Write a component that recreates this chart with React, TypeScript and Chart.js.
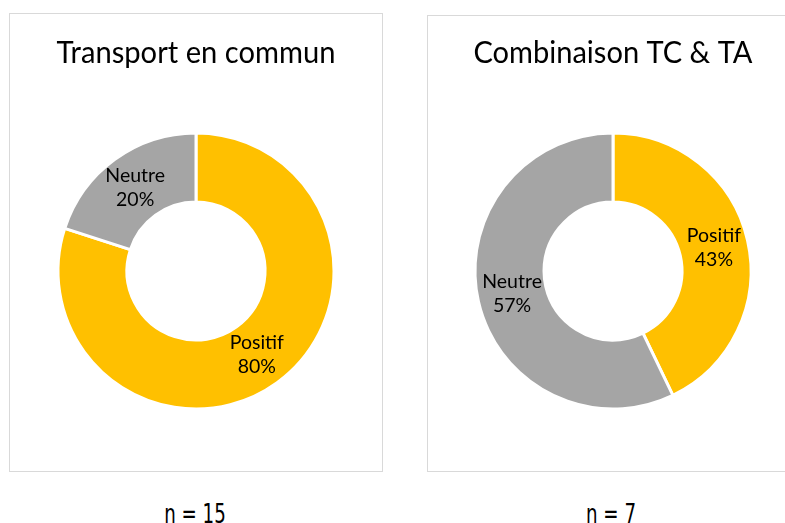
import React, { useEffect, useRef } from "react";
import { Chart, registerables } from "chart.js";

Chart.register(...registerables);

const sliceLabels = ["Positif", "Neutre"];
const transportValues = [12, 3];
const combinaisonValues = [3, 4];
const sliceColors = ["#FFC000", "#A5A5A5"];
const panelTitles = ["Transport en commun", "Combinaison TC & TA"];
const sampleSizes = ["n = 15", "n = 7"];

const FONT = "Lato, 'Open Sans', sans-serif";

const labelPlugin = {
  id: "sliceLabels",
  afterDatasetsDraw(chart: any) {
    const ctx = chart.ctx;
    const meta = chart.getDatasetMeta(0);
    const data = chart.data.datasets[0].data as number[];
    const total = data.reduce((a: number, b: number) => a + b, 0);
    ctx.save();
    ctx.font = `19.5px ${FONT}`;
    ctx.fillStyle = "#000000";
    ctx.textAlign = "center";
    ctx.textBaseline = "middle";
    meta.data.forEach((arc: any, i: number) => {
      const p = arc.getCenterPoint();
      const pct = Math.round((data[i] / total) * 100) + "%";
      ctx.fillText(String(chart.data.labels[i]), p.x, p.y - 12);
      ctx.fillText(pct, p.x, p.y + 12);
    });
    ctx.restore();
  },
};

type PanelProps = {
  title: string;
  values: number[];
  left: number;
  top: number;
  width: number;
  height: number;
  pad: { left: number; right: number; top: number; bottom: number };
  titlePad: { top: number; bottom: number };
};

function DonutPanel(props: PanelProps) {
  const ref = useRef<HTMLCanvasElement | null>(null);
  useEffect(() => {
    if (!ref.current) return;
    const chart = new Chart(ref.current, {
      type: "doughnut",
      data: {
        labels: sliceLabels,
        datasets: [
          {
            data: props.values,
            backgroundColor: sliceColors,
            borderColor: "#FFFFFF",
            borderWidth: 3,
          },
        ],
      },
      options: {
        animation: false,
        responsive: false,
        devicePixelRatio: 1,
        cutout: "50%",
        layout: { padding: props.pad },
        plugins: {
          legend: { display: false },
          tooltip: { enabled: false },
          title: {
            display: true,
            text: props.title,
            color: "#000000",
            font: { family: FONT, size: 30, weight: "normal", lineHeight: 1.2 },
            padding: props.titlePad,
          },
        },
      } as any,
      plugins: [labelPlugin],
    });
    return () => chart.destroy();
  }, []);
  return (
    <div
      style={{
        position: "absolute",
        left: props.left,
        top: props.top,
        width: props.width,
        height: props.height,
        border: "1px solid #D9D9D9",
        background: "#FFFFFF",
      }}
    >
      <canvas
        ref={ref}
        width={props.width}
        height={props.height}
        style={{ display: "block", width: props.width, height: props.height }}
      />
    </div>
  );
}

const nStyle: React.CSSProperties = {
  position: "absolute",
  top: 500,
  width: 200,
  textAlign: "center",
  fontFamily: "'Liberation Sans Narrow', 'DejaVu Sans Condensed', sans-serif",
  fontSize: 27,
  lineHeight: "27px",
  color: "#000000",
  whiteSpace: "nowrap",
  transform: "scaleX(0.75)",
  transformOrigin: "center",
};

export default function App() {
  return (
    <div
      style={{
        position: "absolute",
        left: 0,
        top: 0,
        width: 785,
        height: 523,
        overflow: "hidden",
        background: "#FFFFFF",
      }}
    >
      <DonutPanel
        title={panelTitles[0]}
        values={transportValues}
        left={9}
        top={13}
        width={372}
        height={457}
        pad={{ left: 46.5, right: 46.5, top: 0, bottom: 60.5 }}
        titlePad={{ top: 21.5, bottom: 60 }}
      />
      <DonutPanel
        title={panelTitles[1]}
        values={combinaisonValues}
        left={427}
        top={15}
        width={372}
        height={455}
        pad={{ left: 45.5, right: 47.5, top: 0, bottom: 60.5 }}
        titlePad={{ top: 19.5, bottom: 60 }}
      />
      <div style={{ ...nStyle, left: 95 }}>{sampleSizes[0]}</div>
      <div style={{ ...nStyle, left: 511 }}>{sampleSizes[1]}</div>
    </div>
  );
}
